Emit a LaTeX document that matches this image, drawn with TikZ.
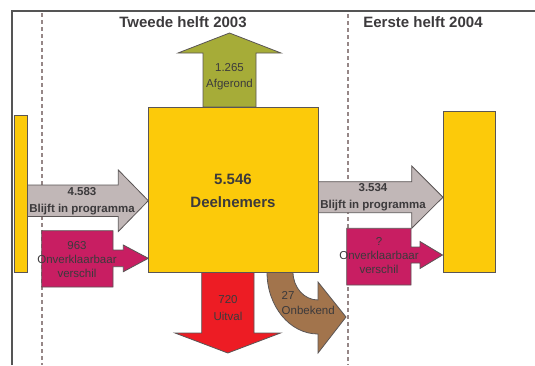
\documentclass[tikz,border=0pt]{standalone}
\usepackage{fontspec}
\setmainfont{Liberation Sans}

\definecolor{framegrey}{RGB}{85,85,85}
\definecolor{dashgrey}{RGB}{150,135,135}
\definecolor{edgegrey}{RGB}{90,85,85}
\definecolor{textgrey}{RGB}{60,58,60}
\definecolor{deelgeel}{RGB}{252,202,10}
\definecolor{afgroen}{RGB}{166,172,56}
\definecolor{blijfgrijs}{RGB}{193,183,183}
\definecolor{onverklaard}{RGB}{200,30,98}
\definecolor{uitvalrood}{RGB}{237,28,36}
\definecolor{onbekendbruin}{RGB}{162,116,76}

\begin{document}
\begin{tikzpicture}[
    x=1pt, y=-1pt,
    frame/.style={draw=framegrey, line width=1.2pt},
    divider/.style={draw=dashgrey, line width=1.2pt, dash pattern=on 4pt off 3pt},
    block/.style={rectangle, draw=edgegrey, line width=0.8pt, fill=deelgeel, inner sep=0pt, anchor=north west},
    flow/.style={draw=edgegrey, line width=0.8pt, line join=miter},
    title/.style={font=\fontsize{15}{18}\selectfont\bfseries, text=textgrey},
    maintxt/.style={font=\fontsize{15}{22.7}\selectfont\bfseries, text=textgrey, align=center},
    flowtxt/.style={font=\fontsize{11.5}{14}\selectfont, text=textgrey, align=center, inner sep=0pt},
    flowbold/.style={flowtxt, font=\fontsize{11.5}{17}\selectfont\bfseries}
]
    \useasboundingbox (0,0) rectangle (535,365);

    % Frame and period dividers
    \draw[frame] (12,365) -- (12,11) -- (535,11);
    \draw[divider] (42,13) -- (42,365);
    \draw[divider] (348,14) -- (348,365);

    % Arrows
    \filldraw[flow, fill=afgroen] (203,107) -- (203,53) -- (178,53) -- (229.5,33)
        -- (281,53) -- (256,53) -- (256,107) -- cycle;
    \filldraw[flow, fill=blijfgrijs] (27,185) -- (118.3,185) -- (118.3,170) -- (148.3,200.7)
        -- (118.3,231.5) -- (118.3,216.5) -- (27,216.5) -- cycle;
    \filldraw[flow, fill=onverklaard] (41.7,230.7) -- (113,230.7) -- (113,250) -- (123.3,250)
        -- (123.3,245) -- (148.3,258.3) -- (123.3,271.7) -- (123.3,266.7) -- (113,266.7)
        -- (113,287) -- (41.7,287) -- cycle;
    \filldraw[flow, fill=uitvalrood] (201.7,272) -- (201.7,333) -- (175,333) -- (227.8,353)
        -- (280.5,333) -- (254,333) -- (254,272) -- cycle;
    \filldraw[flow, fill=onbekendbruin] (267,272) .. controls (267,306.2) and (289.8,334) .. (318,334)
        -- (318,353) -- (346,317) -- (318,282) -- (318,300)
        .. controls (304.2,300) and (293,287.5) .. (293,272) -- cycle;
    \filldraw[flow, fill=blijfgrijs] (318,181.7) -- (411.7,181.7) -- (411.7,166) -- (443,197.2)
        -- (411.7,228.3) -- (411.7,212.7) -- (318,212.7) -- cycle;
    \filldraw[flow, fill=onverklaard] (346.7,228.3) -- (411,228.3) -- (411,247) -- (420,247)
        -- (420,241.5) -- (442.5,255) -- (420,268.5) -- (420,263) -- (411,263)
        -- (411,285) -- (346.7,285) -- cycle;

    % Nodes
    \node[block, minimum width=13pt, minimum height=157pt] (leftbar) at (14,115) {};
    \node[block, minimum width=170pt, minimum height=165pt] (main) at (148,107) {};
    \node[block, minimum width=52pt, minimum height=161pt] (rightbar) at (443,111) {};

    % Labels
    \node[title] (t2003) at (183,22) {Tweede helft 2003};
    \node[title] (t2004) at (423,22) {Eerste helft 2004};
    \node[maintxt] (deelnemers) at (233,190.5) {5.546\\Deelnemers};
    \node[flowtxt, font=\fontsize{11.5}{16}\selectfont] (afgerond) at (229.5,77) {1.265\\Afgerond};
    \node[flowbold] (blijf1) at (82,201.5) {4.583\\Blijft in programma};
    \node[flowbold, font=\fontsize{11.5}{17.5}\selectfont\bfseries] (blijf2) at (373,197) {3.534\\Blijft in programma};
    \node[flowtxt] (onverkl1) at (77,260) {963\\Onverklaarbaar\\verschil};
    \node[flowtxt] (onverkl2) at (379,256) {?\\Onverklaarbaar\\verschil};
    \node[flowtxt, font=\fontsize{11.5}{17.5}\selectfont] (uitval) at (228,308) {720\\Uitval};
    \node[flowtxt, align=left, anchor=west, font=\fontsize{11.5}{15}\selectfont] (onbekend) at (281.5,303.5) {27\\Onbekend};
\end{tikzpicture}
\end{document}
